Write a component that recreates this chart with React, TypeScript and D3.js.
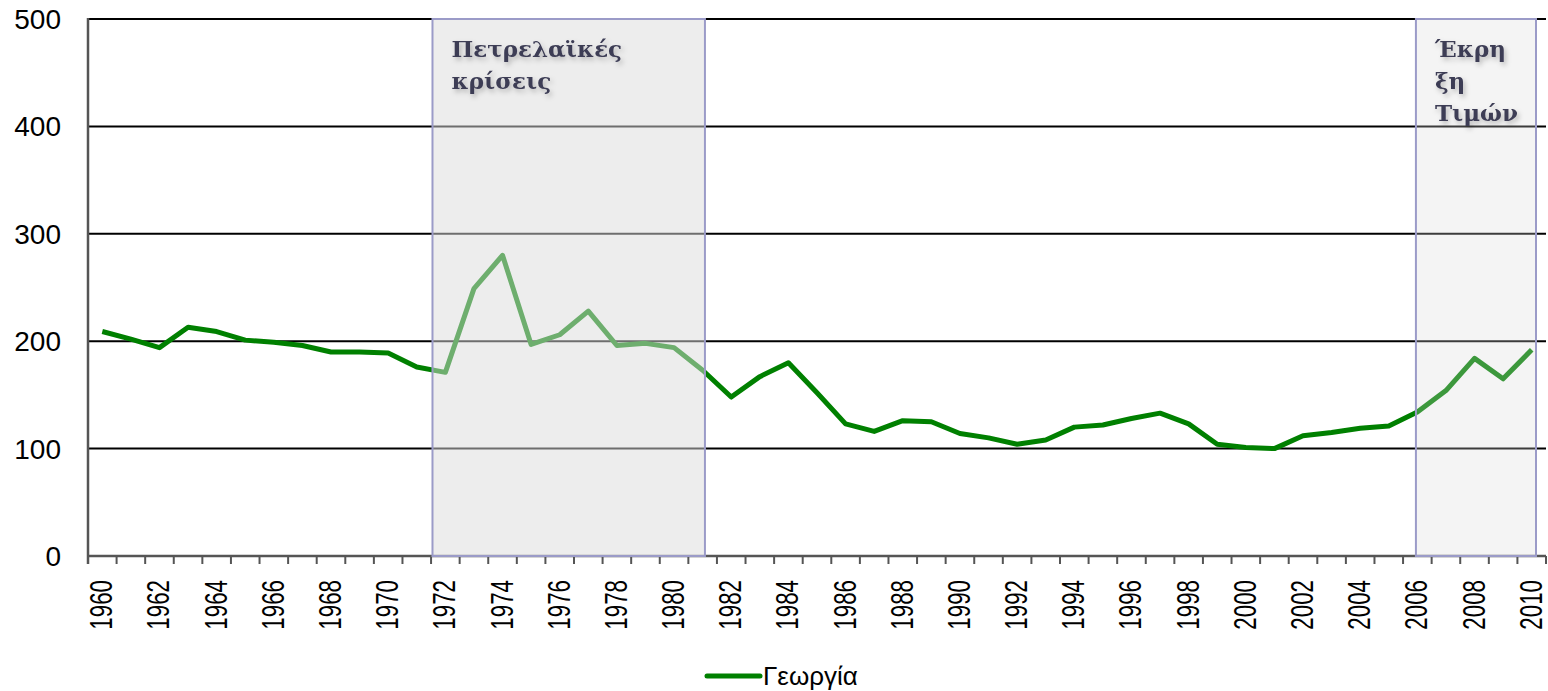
import React, { useEffect, useRef } from 'react';
import * as d3 from 'd3';

// Γεωργία, 1960-2010
const years = d3.range(1960, 2011);
const georgia = [
  209, 202, 194, 213, 209, 201, 199, 196, 190, 190,
  189, 176, 171, 249, 280, 197, 206, 228, 196, 198,
  194, 173, 148, 167, 180, 152, 123, 116, 126, 125,
  114, 110, 104, 108, 120, 122, 128, 133, 123, 104,
  101, 100, 112, 115, 119, 121, 134, 154, 184, 165, 192,
];
const yTicks = [0, 100, 200, 300, 400, 500];

// shaded periods (in fractional years)
const periods = [
  { from: 1971.55, to: 1981.08, lines: ['Πετρελαϊκές', 'κρίσεις'], fill: 'rgba(220,220,220,0.5)' },
  { from: 2005.95, to: 2010.15, lines: ['Έκρη', 'ξη', 'Τιμών'], fill: 'rgba(214,214,214,0.28)' },
];

const W = 1548;
const H = 691;

const App: React.FC = () => {
  const ref = useRef<SVGSVGElement | null>(null);

  useEffect(() => {
    if (!ref.current) return;
    const svg = d3.select(ref.current);
    svg.selectAll('*').remove();

    const margin = { top: 19, right: 2, bottom: 135, left: 88 };
    const x = d3.scaleLinear().domain([1959.5, 2010.5]).range([margin.left, W - margin.right]);
    const y = d3.scaleLinear().domain([0, 500]).range([H - margin.bottom, margin.top]);

    const defs = svg.append('defs');
    const f = defs.append('filter').attr('id', 'shadow').attr('x', '-20%').attr('y', '-40%').attr('width', '140%').attr('height', '180%');
    f.append('feDropShadow').attr('dx', 2).attr('dy', 3).attr('stdDeviation', 2.5).attr('flood-color', '#000').attr('flood-opacity', 0.25);

    // gridlines
    svg
      .append('g')
      .selectAll('line')
      .data(yTicks.filter((d) => d > 0))
      .enter()
      .append('line')
      .attr('x1', x.range()[0])
      .attr('x2', x.range()[1])
      .attr('y1', (d) => y(d))
      .attr('y2', (d) => y(d))
      .attr('stroke', '#000')
      .attr('stroke-width', 2);

    // x axis line + ticks
    const yBase = y(0);
    svg
      .append('line')
      .attr('x1', x.range()[0])
      .attr('x2', x.range()[1])
      .attr('y1', yBase)
      .attr('y2', yBase)
      .attr('stroke', '#555')
      .attr('stroke-width', 2.5);
    svg
      .append('g')
      .selectAll('line')
      .data(d3.range(1959.5, 2011, 1))
      .enter()
      .append('line')
      .attr('x1', (d) => x(d))
      .attr('x2', (d) => x(d))
      .attr('y1', yBase)
      .attr('y2', yBase + 8)
      .attr('stroke', '#555')
      .attr('stroke-width', 2);

    // year labels: glyphs are a bit tall, so squash along the text
    svg
      .append('g')
      .selectAll('text')
      .data(years.filter((d) => d % 2 === 0))
      .enter()
      .append('text')
      .attr('transform', (d) => `translate(${x(d) + 10},${yBase + 24}) rotate(-90) scale(0.72,1)`)
      .attr('text-anchor', 'end')
      .attr('font-family', 'Liberation Sans, Arial, sans-serif')
      .attr('font-size', 31)
      .attr('fill', '#000')
      .text((d) => d);

    // y axis
    svg
      .append('line')
      .attr('x1', x.range()[0])
      .attr('x2', x.range()[0])
      .attr('y1', y(500) - 1)
      .attr('y2', yBase + 8)
      .attr('stroke', '#555')
      .attr('stroke-width', 2.5);
    svg
      .append('g')
      .selectAll('text')
      .data(yTicks)
      .enter()
      .append('text')
      .attr('x', 61)
      .attr('y', (d) => y(d) + 10)
      .attr('text-anchor', 'end')
      .attr('font-family', 'Liberation Sans, Arial, sans-serif')
      .attr('font-size', 28)
      .attr('fill', '#000')
      .text((d) => d);

    // line
    const line = d3
      .line<number>()
      .x((_, i) => x(years[i]))
      .y((d) => y(d));
    svg
      .append('path')
      .datum(georgia)
      .attr('d', line)
      .attr('fill', 'none')
      .attr('stroke', '#008000')
      .attr('stroke-width', 5)
      .attr('stroke-linejoin', 'round');

    // shaded periods
    const pg = svg.append('g');
    periods.forEach((p) => {
      pg.append('rect')
        .attr('x', x(p.from))
        .attr('y', y(500))
        .attr('width', x(p.to) - x(p.from))
        .attr('height', yBase - y(500))
        .attr('fill', p.fill)
        .attr('stroke', '#9b9bc8')
        .attr('stroke-width', 2);
      const t = pg
        .append('text')
        .attr('font-family', 'DejaVu Serif, Georgia, serif')
        .attr('font-weight', 'bold')
        .attr('font-size', 23)
        .attr('fill', '#3c3c54')
        .attr('filter', 'url(#shadow)');
      p.lines.forEach((l, i) => {
        t.append('tspan')
          .attr('x', x(p.from) + 19)
          .attr('y', y(500) + 38 + i * 32)
          .text(l);
      });
    });

    // legend
    const lg = svg.append('g').attr('transform', 'translate(707,676)');
    lg.append('line').attr('x1', 0).attr('x2', 53).attr('stroke', '#008000').attr('stroke-width', 5).attr('stroke-linecap', 'round');
    lg.append('text')
      .attr('x', 56)
      .attr('y', 9)
      .attr('font-family', 'Liberation Sans, Arial, sans-serif')
      .attr('font-size', 26)
      .attr('fill', '#000')
      .text('Γεωργία');
  }, []);

  return (
    <svg
      ref={ref}
      width={W}
      height={H}
      style={{ position: 'absolute', left: 0, top: 0, background: '#fff' }}
    />
  );
};

export default App;
